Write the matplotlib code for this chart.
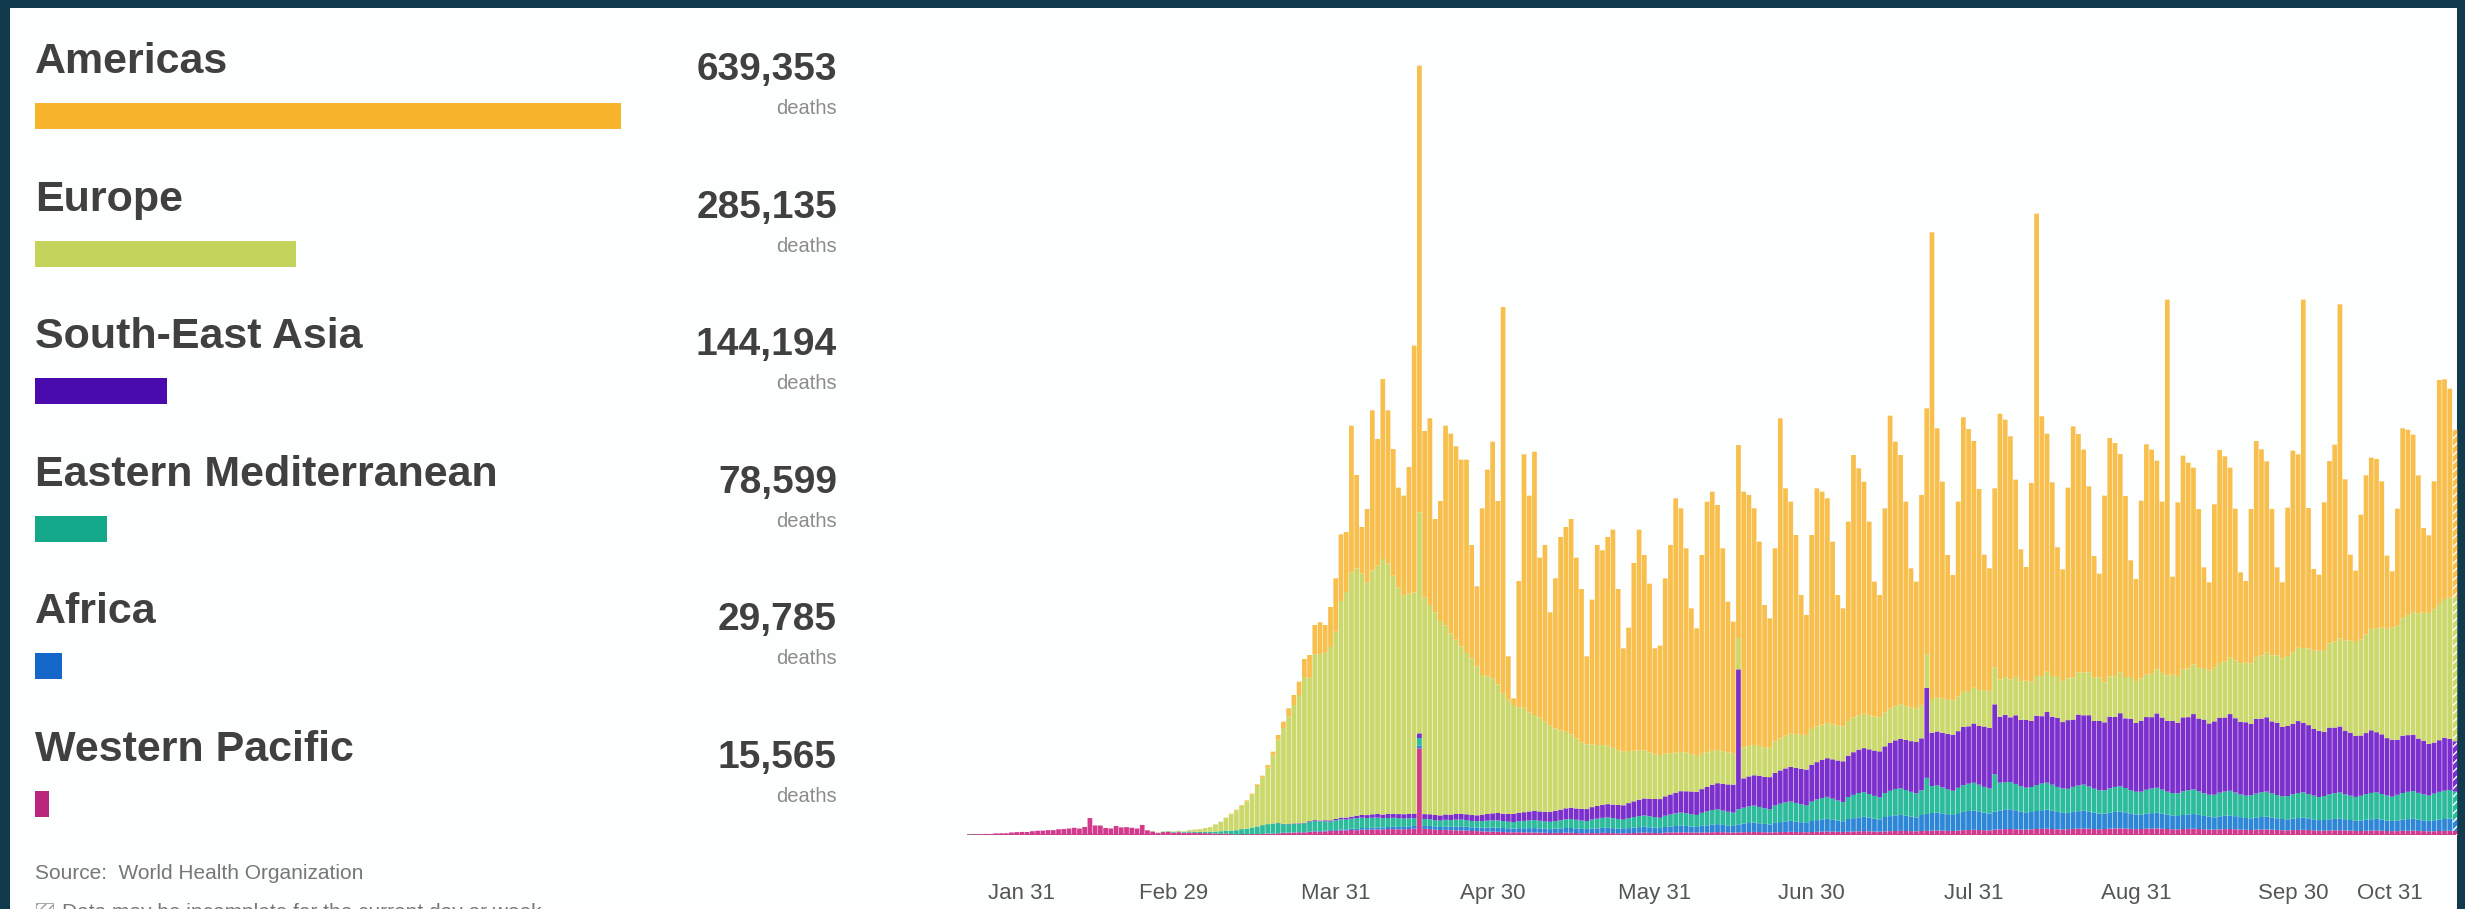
import numpy as np
import matplotlib
matplotlib.use("Agg")
import matplotlib.pyplot as plt
import matplotlib.dates as mdates
from matplotlib.patches import Rectangle

# ---------------- data ----------------
regions = ["Americas", "Europe", "South-East Asia",
           "Eastern Mediterranean", "Africa", "Western Pacific"]
region_totals = [639353, 285135, 144194, 78599, 29785, 15565]
total_labels = ["639,353", "285,135", "144,194", "78,599", "29,785", "15,565"]
unit_label = "deaths"
source_text = "Source:  World Health Organization"
note_text = "Data may be incomplete for the current day or week"

first_day = "2020-01-21"
last_day = "2020-10-31"
tick_dates = ["2020-01-31", "2020-02-29", "2020-03-31", "2020-04-30", "2020-05-31",
              "2020-06-30", "2020-07-31", "2020-08-31", "2020-09-30"]
tick_labels = ["Jan 31", "Feb 29", "Mar 31", "Apr 30", "May 31",
               "Jun 30", "Jul 31", "Aug 31", "Sep 30"]
end_tick_label = "Oct 31"

# daily deaths per region, one row per week (Tue..Mon) starting 2020-01-21
western_pacific = [
    3, 9, 8, 16, 15, 24, 26,
    26, 38, 43, 46, 45, 57, 64,
    66, 73, 73, 86, 89, 97, 108,
    97, 121, 254, 143, 142, 105, 98,
    136, 114, 118, 109, 97, 150, 71,
    52, 29, 44, 47, 35, 42, 31,
    38, 31, 30, 28, 27, 22, 17,
    22, 11, 7, 13, 10, 14, 13,
    16, 20, 18, 25, 30, 32, 35,
    40, 38, 45, 52, 48, 55, 60,
    62, 70, 68, 75, 72, 80, 78,
    82, 85, 80, 90, 88, 84, 86,
    90, 95, 1300, 92, 88, 80, 75,
    78, 72, 70, 68, 65, 60, 58,
    55, 52, 50, 48, 45, 42, 40,
    42, 40, 38, 36, 35, 33, 30,
    32, 30, 35, 33, 30, 28, 27,
    30, 28, 32, 30, 28, 26, 25,
    28, 30, 33, 35, 32, 30, 28,
    35, 38, 40, 42, 40, 38, 36,
    38, 40, 42, 44, 42, 40, 38,
    40, 42, 44, 46, 44, 42, 40,
    42, 44, 46, 48, 46, 44, 42,
    45, 48, 50, 52, 50, 48, 46,
    50, 52, 55, 58, 55, 52, 50,
    55, 58, 60, 62, 60, 58, 55,
    60, 62, 65, 68, 65, 62, 60,
    68, 72, 75, 78, 75, 72, 68,
    80, 85, 88, 90, 86, 82, 80,
    85, 90, 92, 95, 90, 86, 84,
    88, 92, 95, 98, 94, 90, 86,
    90, 95, 98, 100, 96, 92, 88,
    90, 94, 96, 98, 94, 90, 86,
    85, 90, 92, 94, 90, 86, 82,
    80, 85, 88, 90, 86, 82, 78,
    75, 80, 82, 84, 80, 76, 72,
    70, 74, 76, 78, 74, 70, 66,
    65, 68, 70, 72, 68, 65, 62,
    60, 64, 66, 68, 64, 60, 58,
    58, 62, 64, 66, 62, 58, 56,
    56, 60, 62, 64, 60,
]

africa = [
    0, 0, 0, 0, 0, 0, 0,
    0, 0, 0, 0, 0, 0, 0,
    0, 0, 0, 0, 0, 0, 0,
    0, 0, 0, 0, 0, 0, 0,
    0, 0, 0, 0, 0, 0, 0,
    0, 0, 0, 0, 0, 0, 0,
    0, 0, 0, 0, 0, 0, 0,
    0, 0, 0, 0, 0, 0, 0,
    1, 2, 2, 3, 3, 4, 5,
    6, 7, 8, 9, 10, 10, 12,
    14, 15, 18, 20, 22, 25, 26,
    28, 30, 32, 30, 35, 38, 36,
    40, 42, 45, 44, 48, 50, 46,
    50, 52, 55, 54, 58, 56, 52,
    55, 58, 60, 62, 60, 58, 55,
    60, 62, 65, 68, 64, 60, 58,
    62, 65, 70, 72, 68, 64, 62,
    68, 72, 75, 78, 74, 70, 66,
    75, 80, 85, 88, 84, 80, 76,
    85, 90, 95, 100, 96, 90, 85,
    100, 105, 112, 118, 110, 104, 98,
    120, 128, 135, 140, 132, 125, 118,
    140, 150, 158, 165, 155, 148, 140,
    165, 175, 185, 190, 180, 170, 160,
    190, 200, 210, 215, 205, 195, 185,
    215, 225, 235, 240, 230, 220, 210,
    240, 255, 265, 270, 260, 250, 240,
    260, 275, 285, 290, 280, 265, 255,
    270, 280, 290, 295, 285, 270, 260,
    260, 270, 280, 285, 275, 260, 250,
    245, 255, 262, 268, 258, 245, 235,
    230, 240, 248, 252, 244, 232, 222,
    215, 225, 232, 236, 228, 216, 208,
    200, 210, 216, 220, 212, 200, 192,
    185, 195, 200, 204, 196, 186, 178,
    175, 182, 188, 192, 184, 174, 168,
    165, 172, 178, 182, 174, 165, 158,
    160, 168, 172, 176, 168, 160, 154,
    158, 165, 170, 174, 166, 158, 152,
    160, 168, 174, 178, 170, 162, 156,
    165, 172, 178, 182, 176,
]

eastern_mediterranean = [
    0, 0, 0, 0, 0, 0, 0,
    0, 0, 0, 0, 0, 0, 0,
    0, 0, 0, 0, 0, 0, 0,
    0, 0, 0, 0, 0, 0, 0,
    0, 0, 0, 0, 0, 0, 0,
    2, 4, 5, 8, 9, 11, 12,
    15, 16, 18, 20, 22, 28, 40,
    45, 55, 65, 75, 85, 98, 115,
    130, 140, 150, 150, 130, 125, 130,
    125, 130, 145, 150, 145, 140, 130,
    145, 150, 145, 150, 160, 155, 150,
    150, 145, 140, 135, 135, 130, 125,
    120, 115, 110, 105, 100, 95, 95,
    100, 100, 105, 110, 100, 95, 95,
    100, 105, 110, 110, 105, 100, 100,
    105, 110, 115, 120, 115, 110, 110,
    115, 125, 130, 135, 130, 125, 120,
    135, 145, 150, 155, 150, 145, 140,
    150, 160, 165, 170, 165, 160, 155,
    170, 180, 190, 195, 190, 185, 180,
    195, 210, 220, 225, 215, 205, 200,
    225, 240, 250, 255, 245, 235, 230,
    260, 275, 285, 290, 280, 270, 260,
    290, 310, 320, 330, 315, 300, 290,
    330, 350, 365, 370, 355, 340, 330,
    360, 380, 395, 400, 385, 370, 360,
    370, 540, 405, 405, 390, 375, 365,
    380, 400, 410, 415, 400, 385, 375,
    560, 420, 415, 410, 395, 380, 370,
    375, 390, 400, 405, 390, 375, 365,
    360, 375, 385, 390, 375, 360, 350,
    350, 365, 375, 380, 365, 350, 340,
    345, 360, 370, 375, 360, 345, 335,
    340, 355, 365, 370, 355, 340, 330,
    340, 355, 365, 370, 355, 340, 335,
    345, 360, 370, 375, 360, 350, 340,
    350, 365, 375, 380, 365, 355, 345,
    360, 375, 385, 390, 375, 365, 355,
    370, 385, 395, 400, 385, 375, 365,
    385, 400, 410, 415, 400, 390, 380,
    400, 415, 425, 430, 415,
]

south_east_asia = [
    0, 0, 0, 0, 0, 0, 0,
    0, 0, 0, 0, 0, 0, 0,
    0, 0, 0, 0, 0, 0, 0,
    0, 0, 0, 0, 0, 0, 0,
    0, 0, 0, 0, 0, 0, 0,
    0, 0, 0, 0, 0, 0, 0,
    0, 0, 0, 0, 0, 0, 0,
    0, 0, 0, 0, 0, 0, 0,
    1, 1, 2, 2, 3, 4, 5,
    6, 8, 10, 12, 14, 16, 18,
    20, 25, 30, 30, 35, 40, 45,
    50, 55, 55, 60, 60, 62, 65,
    65, 70, 70, 72, 75, 75, 78,
    80, 82, 85, 85, 88, 90, 90,
    95, 100, 105, 110, 110, 115, 120,
    125, 130, 135, 140, 140, 145, 150,
    155, 160, 165, 170, 170, 175, 180,
    185, 190, 195, 200, 205, 210, 215,
    225, 235, 245, 255, 260, 270, 280,
    290, 300, 310, 320, 330, 340, 345,
    355, 365, 380, 390, 400, 410, 420,
    2100, 440, 450, 455, 465, 470, 480,
    490, 500, 510, 520, 525, 530, 540,
    550, 560, 570, 580, 590, 600, 610,
    620, 640, 650, 660, 670, 680, 690,
    700, 720, 730, 740, 750, 760, 770,
    780, 1350, 800, 810, 820, 830, 840,
    850, 875, 860, 890, 880, 905, 910,
    1050, 990, 1010, 970, 1030, 995, 1020,
    990, 1040, 1010, 1060, 1020, 1035, 995,
    1030, 1010, 1065, 1040, 1070, 1015, 1040,
    1020, 1075, 1050, 1095, 1045, 1070, 1030,
    1065, 1090, 1070, 1115, 1080, 1060, 1085,
    1060, 1110, 1095, 1130, 1090, 1105, 1070,
    1100, 1125, 1110, 1150, 1115, 1090, 1100,
    1070, 1120, 1105, 1115, 1080, 1085, 1040,
    1050, 1055, 1080, 1040, 1035, 1000, 995,
    960, 1000, 985, 990, 955, 945, 915,
    905, 915, 940, 900, 895, 860, 855,
    825, 860, 850, 845, 815, 805, 775,
    765, 775, 795, 765, 755,
]

europe = [
    0, 0, 0, 0, 0, 0, 0,
    0, 0, 0, 0, 0, 0, 0,
    0, 0, 0, 0, 0, 0, 0,
    0, 0, 0, 0, 0, 0, 0,
    0, 0, 0, 0, 1, 2, 2,
    3, 4, 5, 5, 8, 10, 12,
    20, 30, 38, 55, 68, 109, 139,
    187, 246, 298, 350, 410, 490, 607,
    712, 847, 1023, 1250, 1439, 1615, 1775,
    1923, 2187, 2150, 2487, 2500, 2520, 2600,
    2809, 3250, 3384, 3665, 3711, 3620, 3491,
    3660, 3725, 3833, 3755, 3572, 3396, 3278,
    3305, 3318, 3315, 3247, 3139, 3040, 2916,
    2832, 2714, 2615, 2513, 2419, 2349, 2235,
    2095, 2065, 2025, 1930, 1800, 1715, 1635,
    1578, 1568, 1487, 1436, 1406, 1352, 1292,
    1236, 1190, 1150, 1100, 1052, 998, 971,
    942, 915, 898, 877, 853, 819, 804,
    782, 760, 742, 722, 699, 680, 661,
    640, 620, 600, 590, 580, 560, 540,
    530, 520, 510, 500, 490, 480, 470,
    470, 465, 460, 455, 450, 445, 440,
    470, 480, 490, 500, 505, 510, 520,
    540, 535, 530, 530, 525, 525, 520,
    520, 520, 515, 515, 510, 510, 510,
    505, 515, 510, 520, 508, 502, 500,
    500, 500, 505, 505, 510, 510, 515,
    520, 525, 530, 535, 540, 545, 550,
    555, 560, 565, 570, 575, 580, 585,
    590, 595, 600, 605, 610, 615, 620,
    625, 630, 635, 640, 645, 650, 655,
    600, 605, 610, 615, 620, 625, 630,
    635, 640, 650, 660, 670, 680, 690,
    700, 715, 730, 745, 760, 775, 790,
    805, 820, 835, 850, 865, 880, 895,
    910, 930, 950, 970, 990, 1010, 1030,
    1050, 1075, 1100, 1125, 1150, 1175, 1200,
    1230, 1260, 1290, 1320, 1350, 1380, 1410,
    1440, 1480, 1520, 1560, 1600, 1640, 1680,
    1720, 1760, 1800, 1840, 1880, 1920, 1960,
    2000, 2040, 2080, 2120, 2160,
]

americas = [
    0, 0, 0, 0, 0, 0, 0,
    0, 0, 0, 0, 0, 0, 0,
    0, 0, 0, 0, 0, 0, 0,
    0, 0, 0, 0, 0, 0, 0,
    0, 0, 0, 0, 0, 0, 0,
    0, 0, 0, 0, 1, 0, 0,
    2, 3, 4, 2, 3, 1, 4,
    6, 8, 10, 12, 15, 18, 25,
    30, 40, 55, 70, 95, 120, 150,
    200, 270, 342, 440, 473, 409, 600,
    800, 1000, 900, 2200, 1400, 700, 1100,
    2400, 1900, 2700, 2300, 1900, 1500, 1500,
    1900, 3700, 6700, 2500, 2800, 1400, 1800,
    3000, 3000, 2900, 2800, 2900, 1700, 1200,
    2500, 3100, 3550, 2750, 5800, 650, 100,
    1900, 3800, 3250, 3950, 2400, 2650, 1700,
    2250, 2900, 3070, 3230, 2710, 2300, 1320,
    2170, 3000, 2920, 3130, 3270, 2420, 1550,
    1850, 2815, 3310, 2930, 2530, 1580, 1640,
    2630, 3122, 3815, 3653, 3064, 2187, 1914,
    2982, 3760, 3886, 3673, 3043, 2261, 1974,
    2895, 3835, 3761, 3549, 3064, 2133, 1942,
    2898, 4801, 3711, 3477, 2989, 2098, 1798,
    2910, 3572, 3495, 3368, 2740, 1957, 1774,
    2990, 3938, 3705, 3482, 2905, 2023, 1835,
    3065, 4392, 3970, 3738, 3067, 2090, 1905,
    3150, 3693, 7000, 4042, 3255, 2173, 1880,
    2922, 4118, 3930, 3702, 3015, 2033, 1842,
    2685, 3985, 3862, 3645, 2959, 1978, 1705,
    2980, 6935, 3898, 3570, 2905, 1944, 1671,
    2862, 3768, 3573, 3344, 2788, 1825, 1554,
    2800, 3575, 3499, 3273, 2715, 1751, 1530,
    2665, 3451, 3362, 3131, 2568, 5639, 1471,
    2605, 3210, 3087, 2951, 2383, 1509, 1326,
    2450, 3195, 3082, 2846, 2278, 1362, 1224,
    2315, 3238, 3090, 2869, 2196, 1320, 1140,
    2225, 3024, 2901, 5225, 2107, 1225, 1141,
    2215, 2739, 2953, 5012, 2419, 1290, 1069,
    1872, 2386, 2569, 2538, 2195, 1097, 845,
    1747, 2850, 2782, 2661, 2068, 1270, 1168,
    1919, 3363, 3295, 3134, 2514,
]

# ---------------- styling ----------------
W, H, DPI = 2465, 909, 100
legend_colors = ["#F9B42E", "#C3D35B", "#4A0BAE", "#13A98A", "#1467C9", "#B8277B"]
chart_colors = ["#F8BF4C", "#CBD96C", "#7B2FCC", "#2CBB9B", "#2E87D6", "#D23A8E"]
FONT = "Liberation Sans"

fig = plt.figure(figsize=(W / DPI, H / DPI), dpi=DPI)
fig.patch.set_facecolor("#113a4d")
fig.add_artist(Rectangle((10 / W, 0), (2457 - 10) / W, (H - 8) / H,
                         transform=fig.transFigure, facecolor="#fdfefe",
                         edgecolor="none", zorder=0))


def ftext(x, y, s, **kw):
    return fig.text(x / W, 1 - y / H, s, **kw)


# ---------------- left legend panel ----------------
lax = fig.add_axes([35 / W, 0, 586 / W, 1])
lax.set_xlim(0, max(region_totals))
lax.set_ylim(H, 0)
lax.axis("off")
row_step = 137.6
for k, (name, tot, lab) in enumerate(zip(regions, region_totals, total_labels)):
    lax.barh(116 + row_step * k, tot, height=26, color=legend_colors[k], linewidth=0)
    ftext(35, 73 + row_step * k, name, fontsize=31, color="#404040",
          family=FONT, weight="bold", va="baseline", ha="left")
    ftext(837, 80 + row_step * k, lab, fontsize=28, color="#404040",
          family=FONT, weight="bold", va="baseline", ha="right")
    ftext(837, 114 + row_step * k, unit_label, fontsize=14.5, color="#8c8c8c",
          family=FONT, va="baseline", ha="right")

ftext(35, 879, source_text, fontsize=15, color="#777777", family=FONT,
      va="baseline", ha="left")
fig.add_artist(Rectangle((36 / W, 1 - 920 / H), 17 / W, 17 / H,
                         transform=fig.transFigure, facecolor="none",
                         edgecolor="#9a9a9a", hatch="////", linewidth=0.6))
ftext(62, 918, note_text, fontsize=15, color="#777777", family=FONT,
      va="baseline", ha="left")

# ---------------- stacked daily bars ----------------
dates = np.arange(np.datetime64(first_day), np.datetime64(last_day) + np.timedelta64(1, "D"))
stack = [western_pacific, africa, eastern_mediterranean, south_east_asia, europe, americas]
stack_colors = chart_colors[::-1]
for s in stack:
    assert len(s) == len(dates), len(s)

ax = fig.add_axes([967 / W, (H - 835) / H, (2457.6 - 967) / W, 800 / H])
ax.set_facecolor("none")
bottom = np.zeros(len(dates))
for vals, col in zip(stack, stack_colors):
    vals = np.asarray(vals, dtype=float)
    bars = ax.bar(dates, vals, width=0.9, bottom=bottom, color=col, linewidth=0, zorder=2)
    for b in bars:
        b.set_snap(False)
    bottom = bottom + vals

# hatched marker on the (possibly incomplete) last day
ax.bar(dates[-1:], bottom[-1:], width=0.9, facecolor="none", edgecolor="#ffffff",
       hatch="////", linewidth=0, zorder=3)

ax.axhline(0, color="#8a8a8a", lw=1.5, zorder=1)
ax.set_xlim(dates[0] - np.timedelta64(12, "h"), dates[-1] + np.timedelta64(12, "h"))
ax.set_ylim(0, 12000)
for sp in ax.spines.values():
    sp.set_visible(False)
ax.set_yticks([])
ax.set_xticks([np.datetime64(d) for d in tick_dates])
ax.set_xticklabels(tick_labels, fontsize=16, color="#555555", family=FONT)
ax.tick_params(axis="x", length=0, pad=34.5)
ax.annotate(end_tick_label, xy=(mdates.date2num(np.datetime64(last_day)), 0),
            xycoords=("data", "axes fraction"), xytext=(-65, -48),
            textcoords="offset pixels", ha="center", va="top",
            fontsize=16, color="#555555", family=FONT, annotation_clip=False)

fig.savefig("out.png", dpi=DPI, facecolor=fig.get_facecolor())
